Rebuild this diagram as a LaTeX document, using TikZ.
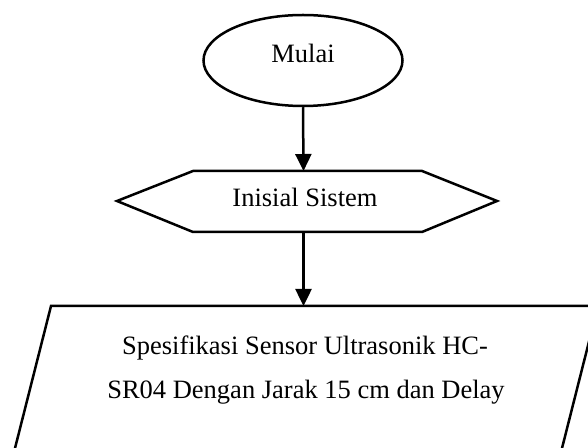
\documentclass[tikz,border=0pt]{standalone}
\usepackage{fontspec}
\setmainfont{Liberation Serif}
\usetikzlibrary{arrows.meta,shapes.geometric}
\begin{document}
\begin{tikzpicture}[x=0.5pt,y=-0.5pt,line width=1.25pt,
  every node/.style={font=\fontsize{13.25}{16}\selectfont},
  label/.style={anchor=base,inner sep=0pt},
  flow/.style={-{Triangle[length=8.5pt,width=8pt]}},
  outline/.style={draw,line width=1.25pt,line join=miter}]
\clip (0,0) rectangle (588,448);
% start
\node[ellipse,outline,minimum width=99.5pt,minimum height=45.5pt,inner sep=0pt] (start) at (303,60.5) {};
\node[label] (startText) at (303,63) {Mulai};
% preparation hexagon
\draw[outline] (117,201) -- (193,171) -- (422,171) -- (497,201) -- (422,232) -- (193,232) -- cycle;
\coordinate (hexTop) at (303.5,171);
\coordinate (hexBot) at (303.5,232);
\node[label] (init) at (305,207) {Inisial Sistem};
% input parallelogram
\draw[outline] (51,306) -- (598,306) -- (557,468) -- (10,468) -- cycle;
\coordinate (paraTop) at (303.5,306);
\node[label] (spec1) at (305,354) {Spesifikasi Sensor Ultrasonik HC-};
\node[label] (spec2) at (306,398) {SR04 Dengan Jarak 15 cm dan Delay};
% connectors
\draw[flow] (start.south) -- (hexTop);
\draw[flow] (hexBot) -- (paraTop);
\end{tikzpicture}
\end{document}
